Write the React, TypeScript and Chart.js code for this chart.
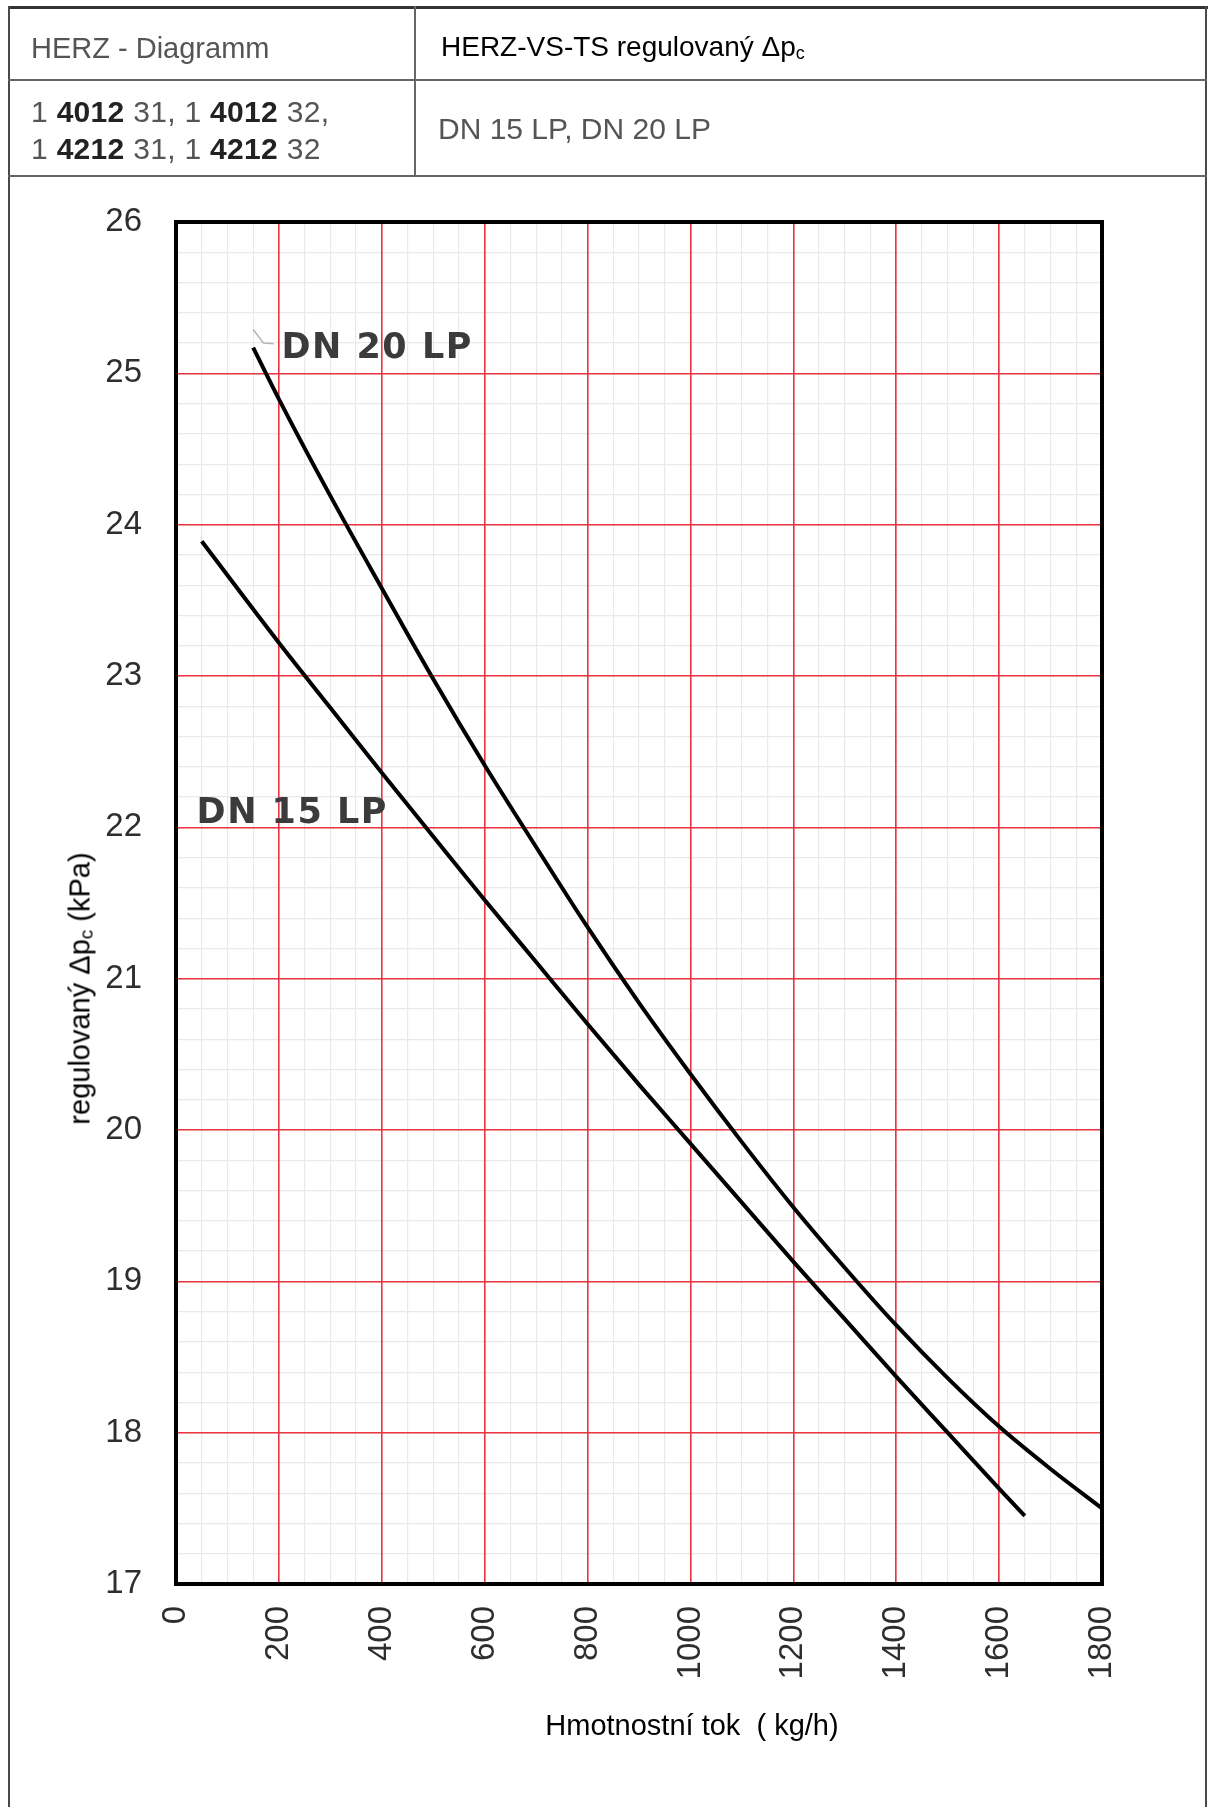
import React, { useEffect, useRef } from "react";
import { Chart, registerables } from "chart.js";

Chart.register(...registerables);

// ---- data ----
const flowDN15 = [50, 200, 300, 400, 500, 600, 700, 800, 900, 1000, 1100, 1200, 1300, 1400, 1500, 1600, 1650];
const dpDN15 = [23.89, 23.22, 22.79, 22.36, 21.94, 21.52, 21.11, 20.7, 20.3, 19.91, 19.52, 19.13, 18.75, 18.37, 18.0, 17.63, 17.45];

const flowDN20 = [150, 200, 300, 400, 500, 600, 700, 800, 900, 1000, 1100, 1200, 1300, 1400, 1500, 1600, 1700, 1800];
const dpDN20 = [25.17, 24.83, 24.19, 23.58, 22.98, 22.41, 21.87, 21.34, 20.84, 20.37, 19.92, 19.49, 19.09, 18.71, 18.36, 18.04, 17.76, 17.5];

const leaderFlow = [150, 170, 190];
const leaderDp = [25.29, 25.2, 25.195];

const curveLabels = ["DN 20 LP", "DN 15 LP"];
const curveLabelFlow = [205, 40];
const curveLabelDp = [25.1, 22.03];

const xMin = 0;
const xMax = 1800;
const xMajorStep = 200;
const xMinorStep = 50;
const yMin = 17;
const yMax = 26;
const yMajorStep = 1;
const yMinorStep = 0.2;

const FONT = "'Liberation Sans', Arial, Helvetica, sans-serif";
const RED = "#e8353f";
const MINOR = "#e9e9e9";

const toPoints = (xs: number[], ys: number[]) => xs.map((x, i) => ({ x, y: ys[i] }));

const overlayPlugin = {
  id: "overlay",
  afterDatasetsDraw(chart: any) {
    const { ctx, chartArea: a, scales } = chart;
    ctx.save();
    // curve labels
    ctx.font = `bold 35px 'DejaVu Sans', sans-serif`;
    try {
      (ctx as any).letterSpacing = "1.5px";
    } catch (e) {}
    ctx.fillStyle = "#3b3b3b";
    ctx.textAlign = "left";
    ctx.textBaseline = "alphabetic";
    curveLabels.forEach((t, i) => {
      ctx.fillText(
        t,
        scales.x.getPixelForValue(curveLabelFlow[i]),
        scales.y.getPixelForValue(curveLabelDp[i])
      );
    });
    try {
      (ctx as any).letterSpacing = "0px";
    } catch (e) {}
    // plot frame
    ctx.lineWidth = 4;
    ctx.strokeStyle = "#000";
    ctx.strokeRect(a.left, a.top, a.right - a.left, a.bottom - a.top);
    ctx.restore();
  },
};

function ChartCanvas() {
  const ref = useRef<HTMLCanvasElement>(null);
  useEffect(() => {
    if (!ref.current) return;
    const chart = new Chart(ref.current, {
      type: "scatter",
      data: {
        datasets: [
          {
            label: "DN 15 LP",
            data: toPoints(flowDN15, dpDN15),
            showLine: true,
            borderColor: "#000",
            borderWidth: 4,
            pointRadius: 0,
            cubicInterpolationMode: "monotone",
            fill: false,
          },
          {
            label: "DN 20 LP",
            data: toPoints(flowDN20, dpDN20),
            showLine: true,
            borderColor: "#000",
            borderWidth: 4,
            pointRadius: 0,
            cubicInterpolationMode: "monotone",
            fill: false,
          },
          {
            label: "leader",
            data: toPoints(leaderFlow, leaderDp),
            showLine: true,
            borderColor: "#b5b5b5",
            borderWidth: 1.5,
            pointRadius: 0,
            tension: 0,
            fill: false,
          },
        ],
      } as any,
      options: {
        animation: false,
        responsive: false,
        events: [],
        layout: { padding: { top: 222, right: 107, left: 0, bottom: 0 } },
        plugins: {
          legend: { display: false },
          tooltip: { enabled: false },
          title: { display: false },
        },
        scales: {
          xMinor: {
            type: "linear",
            position: "bottom",
            min: xMin,
            max: xMax,
            z: -1,
            ticks: { display: false, stepSize: xMinorStep, maxTicksLimit: 200 },
            grid: { color: MINOR, lineWidth: 1.2, drawTicks: false },
            border: { display: false },
            afterFit: (s: any) => {
              s.height = 0;
            },
          },
          yMinor: {
            type: "linear",
            position: "left",
            min: yMin,
            max: yMax,
            z: -1,
            ticks: { display: false, stepSize: yMinorStep, maxTicksLimit: 200 },
            grid: { color: MINOR, lineWidth: 1.2, drawTicks: false },
            border: { display: false },
            afterFit: (s: any) => {
              s.width = 0;
            },
          },
          x: {
            type: "linear",
            position: "bottom",
            min: xMin,
            max: xMax,
            ticks: {
              stepSize: xMajorStep,
              autoSkip: false,
              minRotation: 90,
              maxRotation: 90,
              padding: 22,
              color: "#2e2e2e",
              font: { size: 33, family: FONT },
              callback: (v: any) => String(v),
            },
            grid: { color: RED, lineWidth: 1.6, drawTicks: false },
            border: { display: false },
            afterFit: (s: any) => {
              s.height = 223;
            },
          },
          y: {
            type: "linear",
            position: "left",
            min: yMin,
            max: yMax,
            ticks: {
              stepSize: yMajorStep,
              autoSkip: false,
              padding: 34,
              color: "#2e2e2e",
              font: { size: 33, family: FONT },
              callback: (v: any) => String(v),
            },
            grid: { color: RED, lineWidth: 1.6, drawTicks: false },
            border: { display: false },
            afterFit: (s: any) => {
              s.width = 176;
            },
          },
        },
      } as any,
      plugins: [overlayPlugin],
    });
    return () => chart.destroy();
  }, []);
  return (
    <canvas
      ref={ref}
      width={1209}
      height={1807}
      style={{ position: "absolute", left: 0, top: 0, width: 1209, height: 1807 }}
    />
  );
}

const line = (left: number, top: number, width: number, height: number, bg = "#4a4a4a") => (
  <div style={{ position: "absolute", left, top, width, height, background: bg }} />
);

export default function App() {
  const txt = (extra: React.CSSProperties): React.CSSProperties => ({
    position: "absolute",
    fontFamily: FONT,
    whiteSpace: "nowrap",
    lineHeight: "30px",
    ...extra,
  });
  return (
    <div
      style={{
        position: "absolute",
        left: 0,
        top: 0,
        width: 1209,
        height: 1807,
        background: "#fff",
        overflow: "hidden",
      }}
    >
      <ChartCanvas />
      {/* table frame */}
      {line(8, 6, 1200, 3, "#333")}
      {line(8, 6, 2, 1801)}
      {line(1205, 6, 2, 1801)}
      {line(8, 79, 1199, 2, "#666")}
      {line(8, 175, 1199, 2, "#666")}
      {line(414, 6, 2, 171, "#666")}
      {/* header texts */}
      <div style={txt({ left: 31, top: 33, fontSize: 29, color: "#555" })}>HERZ - Diagramm</div>
      <div style={txt({ left: 441, top: 32, fontSize: 28, color: "#000" })}>
        HERZ-VS-TS regulovaný Δp<sub style={{ fontSize: 18, verticalAlign: "-3px" }}>c</sub>
      </div>
      <div style={txt({ left: 31, top: 97, fontSize: 30, color: "#555", letterSpacing: "0.3px" })}>
        1 <b style={{ color: "#222" }}>4012</b> 31, 1 <b style={{ color: "#222" }}>4012</b> 32,
      </div>
      <div style={txt({ left: 31, top: 134, fontSize: 30, color: "#555", letterSpacing: "0.3px" })}>
        1 <b style={{ color: "#222" }}>4212</b> 31, 1 <b style={{ color: "#222" }}>4212</b> 32
      </div>
      <div style={txt({ left: 438, top: 114, fontSize: 30, color: "#555" })}>DN 15 LP, DN 20 LP</div>
      {/* axis titles */}
      <div
        style={txt({
          left: 83 - 200,
          top: 985 - 15,
          width: 400,
          textAlign: "center",
          fontSize: 29,
          color: "#000",
          transform: "rotate(-90deg)",
          transformOrigin: "50% 50%",
        })}
      >
        regulovaný Δp<sub style={{ fontSize: 19, verticalAlign: "-3px" }}>c</sub> (kPa)
      </div>
      <div
        style={txt({
          left: 692 - 300,
          top: 1725 - 15,
          width: 600,
          textAlign: "center",
          fontSize: 29,
          color: "#000",
        })}
      >
        Hmotnostní tok&nbsp;&nbsp;( kg/h)
      </div>
    </div>
  );
}
